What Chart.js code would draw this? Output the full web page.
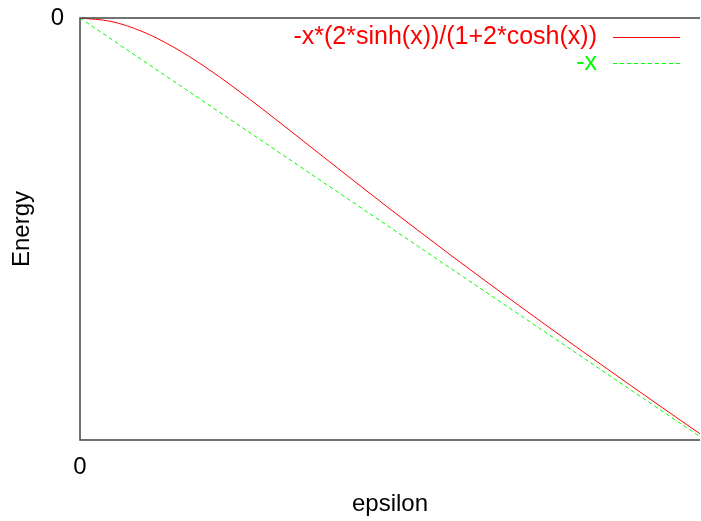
<!DOCTYPE html>
<html>
<head>
<meta charset="utf-8">
<script src="https://cdn.jsdelivr.net/npm/chart.js@4.4.0/dist/chart.umd.min.js"></script>
<style>
    html, body { margin: 0; padding: 0; background: #fff; }
    #wrap { width: 701px; height: 521px; }
</style>
</head>
<body>
<div id="wrap"><canvas id="energyChart" width="701" height="521"></canvas></div>
<script>
// values
var epsilon = [0, 0.25, 0.5, 0.75, 1, 1.25, 1.5, 1.75, 2, 2.25, 2.5, 2.75, 3, 3.25, 3.5, 3.75, 4, 4.25, 4.5, 4.75, 5];
var energySinh = [0, -0.041, -0.160, -0.344, -0.575, -0.838, -1.120, -1.410, -1.702, -1.993, -2.281, -2.564, -2.844, -3.119, -3.391, -3.660, -3.926, -4.189, -4.450, -4.709, -4.966];
var energyLinear = [0, -0.25, -0.5, -0.75, -1, -1.25, -1.5, -1.75, -2, -2.25, -2.5, -2.75, -3, -3.25, -3.5, -3.75, -4, -4.25, -4.5, -4.75, -5];
var seriesLabels = ["-x*(2*sinh(x))/(1+2*cosh(x))", "-x"];
var xTicks = [0];
var yTicks = [0];
var xRange = [0, 5];
var yRange = [-5.04, 0];

var font = "'Liberation Sans', Arial, sans-serif";

function toPoints(xs, ys) {
    var pts = [];
    for (var i = 0; i < xs.length; ++i) {
        pts.push({ x: xs[i], y: ys[i] });
    }
    return pts;
}

// gnuplot style frame + legend inside the top right corner
var gnuplotFrame = {
    id: 'gnuplotFrame',
    afterDraw: function (chart) {
        var ctx = chart.ctx;
        var a = chart.chartArea;
        ctx.save();
        ctx.strokeStyle = '#444';
        ctx.lineWidth = 1.5;
        ctx.beginPath();
        ctx.moveTo(a.right, a.top);
        ctx.lineTo(a.left, a.top);
        ctx.lineTo(a.left, a.bottom);
        ctx.lineTo(a.right, a.bottom);
        ctx.stroke();

        ctx.font = "25px " + font;
        ctx.textAlign = 'right';
        ctx.textBaseline = 'middle';
        chart.data.datasets.forEach(function (ds, i) {
            var y = a.top + 19 + i * 26;
            ctx.fillStyle = ds.borderColor;
            ctx.fillText(ds.label, a.right - 103, y);
            ctx.strokeStyle = ds.borderColor;
            ctx.lineWidth = 1;
            ctx.setLineDash(ds.borderDash || []);
            ctx.beginPath();
            ctx.moveTo(a.right - 87, y + 0.5);
            ctx.lineTo(a.right - 20, y + 0.5);
            ctx.stroke();
        });
        ctx.restore();
    }
};

new Chart("energyChart", {
    type: "line",
    data: {
        datasets: [{
            label: seriesLabels[0],
            data: toPoints(epsilon, energySinh),
            borderColor: "#ff0000",
            borderWidth: 1,
            pointRadius: 0,
            cubicInterpolationMode: 'monotone'
        }, {
            label: seriesLabels[1],
            data: toPoints(epsilon, energyLinear),
            borderColor: "#00ff00",
            borderWidth: 1,
            borderDash: [4, 3],
            pointRadius: 0
        }]
    },
    plugins: [gnuplotFrame],
    options: {
        responsive: false,
        animation: false,
        layout: {
            padding: { top: 18, right: 1, left: 0, bottom: 0 }
        },
        plugins: {
            legend: { display: false },
            tooltip: { enabled: false }
        },
        scales: {
            x: {
                type: 'linear',
                min: xRange[0],
                max: xRange[1],
                grid: { display: false, drawTicks: false },
                border: { display: false },
                afterBuildTicks: function (scale) {
                    scale.ticks = xTicks.map(function (v) { return { value: v }; });
                },
                afterFit: function (scale) {
                    scale.height = 81;
                    scale.paddingLeft = 0;
                    scale.paddingRight = 0;
                },
                ticks: {
                    color: '#000',
                    padding: 13,
                    autoSkip: false,
                    maxRotation: 0,
                    font: { family: font, size: 24 },
                    callback: function (v) { return String(v); }
                },
                title: {
                    display: true,
                    text: "epsilon",
                    color: '#000',
                    padding: { top: 0, bottom: 2 },
                    font: { family: font, size: 24 }
                }
            },
            y: {
                type: 'linear',
                min: yRange[0],
                max: yRange[1],
                grid: { display: false, drawTicks: false },
                border: { display: false },
                afterBuildTicks: function (scale) {
                    scale.ticks = yTicks.map(function (v) { return { value: v }; });
                },
                afterFit: function (scale) {
                    scale.width = 80;
                    scale.paddingTop = 0;
                    scale.paddingBottom = 0;
                },
                ticks: {
                    color: '#000',
                    padding: 16,
                    font: { family: font, size: 24 },
                    callback: function (v) { return String(v); }
                },
                title: {
                    display: true,
                    text: "Energy",
                    color: '#000',
                    padding: { top: 8, bottom: 0 },
                    font: { family: font, size: 24 }
                }
            }
        }
    }
});
</script>
</body>
</html>
